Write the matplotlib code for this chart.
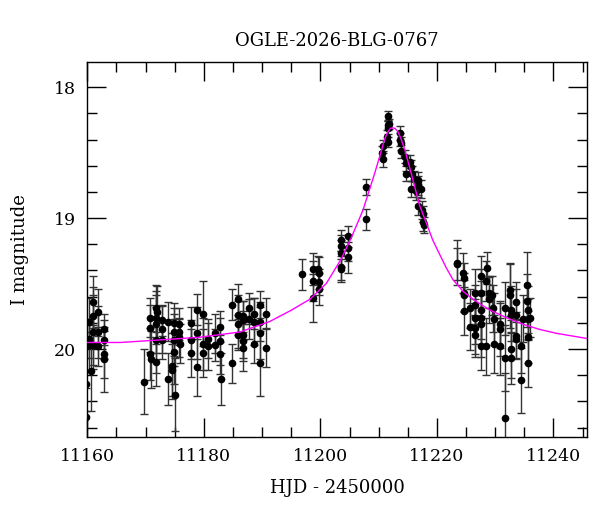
import numpy as np
import matplotlib
matplotlib.use('Agg')
import matplotlib.pyplot as plt
from matplotlib.ticker import MultipleLocator

# photometry: HJD-2450000, I mag, error
hjd = [11159.7, 11159.7, 11160.3, 11160.3, 11160.3, 11160.9, 11160.9, 11160.9, 11160.9, 11160.7,
       11161.9, 11161.9, 11161.9, 11162.9, 11162.9, 11162.9, 11162.9,
       11169.8, 11170.75, 11170.75, 11170.75, 11170.9, 11171.8, 11171.8, 11171.8, 11171.8, 11171.8,
       11172.0, 11172.75, 11172.75, 11172.75, 11173.8, 11173.8, 11174.6, 11174.6, 11175.0, 11174.9,
       11174.9, 11174.9, 11174.9, 11175.8, 11175.8, 11175.8, 11175.9,
       11177.8, 11177.8, 11177.8, 11178.75, 11178.85, 11178.85, 11179.8, 11179.8, 11179.8, 11180.75,
       11180.75, 11181.9, 11181.9, 11182.75, 11182.75, 11182.9, 11182.75,
       11184.9, 11184.9, 11185.8, 11185.8, 11185.8, 11185.8, 11186.75, 11186.75, 11186.75, 11186.75,
       11186.75, 11187.8, 11187.8, 11188.6, 11188.6, 11188.6, 11189.6, 11189.6, 11189.6, 11189.6,
       11190.75, 11190.75,
       11196.9, 11198.75, 11198.75, 11198.75, 11199.6, 11199.7, 11199.7, 11199.7, 11203.6, 11203.6,
       11203.6, 11203.6, 11203.6, 11204.75, 11204.75, 11204.75, 11207.8, 11207.8,
       11210.6, 11210.7, 11210.7, 11211.6, 11211.6, 11211.6, 11211.5, 11211.6, 11211.8, 11213.6,
       11213.6, 11213.9, 11213.9, 11214.6, 11214.75, 11214.75, 11215.3, 11215.6, 11215.8, 11216.0,
       11215.6, 11216.4, 11216.75, 11216.75, 11216.75, 11217.3, 11217.5, 11217.6, 11217.6, 11217.7,
       11223.4, 11223.4, 11224.5, 11224.6, 11224.6, 11224.6, 11224.7, 11225.7, 11225.7, 11226.6,
       11226.6, 11226.6, 11226.6, 11226.6, 11227.6, 11227.6, 11227.6, 11227.6, 11227.6, 11227.6,
       11228.5, 11228.6, 11228.5, 11228.9, 11228.9, 11229.5, 11229.6, 11229.8, 11229.8, 11230.75,
       11230.75, 11230.75, 11231.6, 11231.6, 11231.7, 11232.5, 11232.5, 11232.7, 11232.7, 11232.7,
       11232.7, 11233.5, 11233.5, 11233.6, 11233.6, 11234.5, 11234.5, 11234.7, 11235.4, 11235.4,
       11235.6, 11235.6, 11235.6, 11235.6, 11235.9]

mag = [20.27, 20.52, 19.79, 19.92, 19.97, 19.64, 19.75, 19.87, 19.97, 20.17,
       19.72, 19.87, 19.98, 19.85, 19.93, 20.04, 20.08,
       20.25, 19.76, 19.84, 20.04, 20.08, 19.69, 19.76, 19.81, 19.93, 20.10,
       19.72, 19.78, 19.85, 19.93, 19.79, 20.23, 20.13, 20.16, 20.35, 19.80,
       19.87, 19.93, 20.02, 19.81, 19.87, 19.91, 19.96,
       19.80, 19.93, 20.03, 19.70, 19.88, 20.14, 19.73, 19.96, 20.03, 19.92,
       19.98, 19.88, 19.97, 19.83, 20.04, 20.23, 19.94,
       19.66, 20.11, 19.62, 19.74, 19.81, 19.89, 19.75, 19.78, 19.89, 19.94,
       19.99, 19.69, 19.77, 19.73, 19.79, 19.96, 19.66, 19.79, 19.88, 20.11,
       19.73, 19.99,
       19.43, 19.39, 19.48, 19.61, 19.39, 19.42, 19.49, 19.54, 19.17, 19.21,
       19.27, 19.37, 19.39, 19.14, 19.23, 19.30, 18.76, 19.01,
       18.50, 18.45, 18.55, 18.22, 18.29, 18.31, 18.38, 18.42, 18.28, 18.35,
       18.40, 18.43, 18.49, 18.53, 18.58, 18.66, 18.57, 18.61, 18.66, 18.70,
       18.78, 18.79, 18.71, 18.75, 18.91, 18.78, 18.94, 18.97, 19.03, 19.05,
       19.34, 19.35, 19.42, 19.46, 19.57, 19.59, 19.71, 19.69, 19.83, 19.57,
       19.66, 19.76, 19.84, 19.89, 19.44, 19.57, 19.70, 19.76, 19.81, 19.98,
       19.48, 19.38, 19.98, 19.57, 19.62, 19.59, 19.69, 19.77, 19.96, 19.81,
       19.85, 19.98, 19.69, 20.07, 20.53, 19.55, 19.59, 19.70, 19.74, 20.00,
       20.07, 19.64, 19.74, 19.90, 19.92, 19.98, 20.24, 19.77, 19.51, 19.63,
       19.70, 19.77, 19.91, 20.11, 19.76]

err = [0.20, 0.22, 0.18, 0.15, 0.20, 0.20, 0.22, 0.28, 0.15, 0.30,
       0.18, 0.20, 0.15, 0.12, 0.15, 0.18, 0.25,
       0.25, 0.15, 0.18, 0.20, 0.22, 0.18, 0.20, 0.22, 0.25, 0.18,
       0.20, 0.12, 0.18, 0.15, 0.15, 0.20, 0.25, 0.20, 0.28, 0.15,
       0.18, 0.20, 0.25, 0.12, 0.10, 0.15, 0.15,
       0.12, 0.15, 0.18, 0.12, 0.20, 0.22, 0.25, 0.20, 0.18, 0.15,
       0.18, 0.15, 0.12, 0.12, 0.15, 0.20, 0.18,
       0.12, 0.15, 0.12, 0.15, 0.18, 0.12, 0.12, 0.15, 0.18, 0.15,
       0.18, 0.12, 0.15, 0.12, 0.18, 0.15, 0.10, 0.15, 0.20, 0.25,
       0.12, 0.15,
       0.12, 0.12, 0.15, 0.18, 0.10, 0.12, 0.10, 0.12, 0.08, 0.08,
       0.10, 0.12, 0.08, 0.08, 0.10, 0.12, 0.06, 0.08,
       0.05, 0.05, 0.06, 0.04, 0.04, 0.05, 0.05, 0.04, 0.04, 0.05,
       0.05, 0.05, 0.05, 0.05, 0.06, 0.06, 0.05, 0.05, 0.06, 0.06,
       0.06, 0.07, 0.06, 0.07, 0.07, 0.07, 0.07, 0.06, 0.07, 0.06,
       0.17, 0.12, 0.15, 0.12, 0.15, 0.12, 0.18, 0.15, 0.18, 0.18,
       0.15, 0.20, 0.22, 0.15, 0.15, 0.18, 0.22, 0.20, 0.25, 0.18,
       0.15, 0.12, 0.22, 0.12, 0.18, 0.15, 0.18, 0.20, 0.22, 0.18,
       0.20, 0.22, 0.20, 0.25, 0.35, 0.20, 0.25, 0.18, 0.20, 0.22,
       0.20, 0.15, 0.20, 0.18, 0.15, 0.20, 0.25, 0.18, 0.25, 0.20,
       0.18, 0.15, 0.20, 0.18, 0.15]

# microlensing model curve
model_t = [11160.0, 11165.7, 11172.6, 11179.3, 11186.2, 11191.3, 11193.0, 11194.75, 11198.2, 11201.0,
           11203.6, 11205.3, 11207.3, 11208.3, 11209.3, 11210.5, 11211.0, 11211.6, 11212.0, 11212.4,
           11212.8, 11213.3, 11213.8, 11214.5, 11215.6, 11216.3, 11217.0, 11218.2, 11219.3, 11220.5,
           11221.6, 11222.75, 11224.5, 11226.2, 11229.0, 11231.9, 11234.7, 11237.6, 11240.5, 11245.8]
model_mag = [19.95, 19.95, 19.93, 19.91, 19.87, 19.79, 19.75, 19.71, 19.62, 19.50,
             19.31, 19.15, 18.94, 18.80, 18.66, 18.48, 18.40, 18.34, 18.315, 18.31,
             18.315, 18.34, 18.39, 18.48, 18.66, 18.78, 18.90, 19.04, 19.17, 19.28,
             19.38, 19.47, 19.56, 19.62, 19.70, 19.76, 19.81, 19.85, 19.88, 19.92]

plt.rcParams['font.family'] = 'DejaVu Serif'
fig = plt.figure(figsize=(6, 5.12), dpi=100)
ax = fig.add_axes([0.1455, 0.147, 0.8333, 0.7313])

ax.errorbar(hjd, mag, yerr=err, fmt='o', color='black', ms=4.5, ecolor='0.2',
            elinewidth=1, capsize=3, capthick=1, zorder=2)
ax.plot(model_t, model_mag, color='#ff00ff', lw=1, zorder=3)

ax.set_xlim(11160, 11245.8)
ax.set_ylim(20.67, 17.81)
ax.xaxis.set_major_locator(MultipleLocator(20))
ax.xaxis.set_minor_locator(MultipleLocator(5))
ax.yaxis.set_major_locator(MultipleLocator(1))
ax.yaxis.set_minor_locator(MultipleLocator(0.2))
ax.tick_params(which='both', direction='in', top=True, right=True, labelsize=12.5, pad=8)
ax.tick_params(which='major', length=13.5, width=1)
ax.tick_params(which='minor', length=7, width=1)
for s in ax.spines.values():
    s.set_linewidth(1)

ax.set_xlabel('HJD - 2450000', fontsize=13, labelpad=10)
ax.set_ylabel('I magnitude', fontsize=13, labelpad=18)
ax.set_title('OGLE-2026-BLG-0767', fontsize=13, pad=12)

fig.savefig('out.png', dpi=100)
